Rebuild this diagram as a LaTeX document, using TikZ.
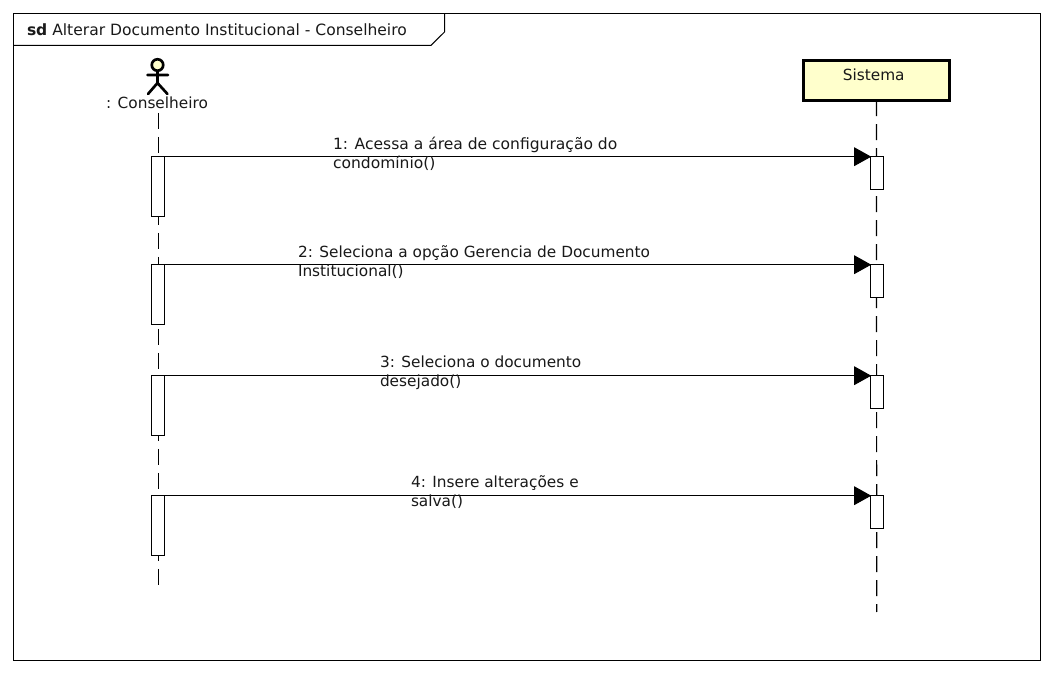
\documentclass[tikz,border=0pt]{standalone}
\usepackage{fontspec}
\setmainfont{DejaVu Sans}
\usetikzlibrary{arrows.meta}
\definecolor{umlfill}{HTML}{FFFFCC}
\tikzset{
  x=0.75pt,y=-0.75pt,
  lbl/.style={inner sep=0pt,outer sep=0pt,font=\fontsize{11.5pt}{14.25pt}\selectfont,text=black!90},
  lblwide/.style={lbl,font=\fontsize{11.65pt}{14.25pt}\selectfont},
  msglbl/.style={lbl,anchor=base west,align=left},
  activation/.style={draw=black,fill=white,line width=0.75pt,minimum width=9.75pt,inner sep=0pt,outer sep=0pt,anchor=north},
  lifeline/.style={draw=black,line width=0.9pt,dash pattern=on 12pt off 6pt},
  msg/.style={draw=black,line width=0.75pt,-{Triangle[length=12.75pt,width=14pt]},shorten >=-0.75pt},
  frameline/.style={draw=black,line width=0.75pt},
}
\begin{document}
\begin{tikzpicture}
\useasboundingbox (0,0) rectangle (1054,673);
\fill[white] (0,0) rectangle (1054,673);
\draw[frameline] (13.5,13.5) rectangle (1040.5,660);
\draw[frameline] (13.5,45.3) -- (431,45.3) -- (444.5,32) -- (444.5,13.5);
\node[lblwide,anchor=base west] (title) at (27,36) {\textbf{sd} Alterar Documento Institucional - Conselheiro};

% actor
\coordinate (ahead) at (157.5,65);
\draw[draw=black,fill=umlfill,line width=2pt] (ahead) circle (4.3pt);
\draw[black,line width=2pt,line cap=round] (157.5,71) -- (157.5,83) (147.5,75) -- (168,75) (148,94) -- (157.5,83) -- (167.5,94);
\node[lbl,anchor=base] (actor) at (157,109) {: Conselheiro};

% system
\node[draw=black,fill=umlfill,line width=2.2pt,minimum width=110pt,minimum height=29.5pt,inner sep=0pt,outer sep=0pt] (sys) at (876.5,80.5) {};
\node[lbl,anchor=base] (systxt) at (873.7,81) {Sistema};

% lifelines
\coordinate (l1top) at (158.3,113);
\coordinate (l1bot) at (158.3,585);
\coordinate (l2bot) at (876.7,612);
\draw[lifeline] (l1top) -- (l1bot);
\draw[lifeline] (sys.south) -- (l2bot);

% activations and messages
\foreach \n/\ya/\off in {1/156.7/0pt, 2/264.7/0pt, 3/375.7/0.6pt, 4/495.7/0.6pt}{
  \node[activation,minimum height=45pt] (a\n) at (158,\ya) {};
  \node[activation,minimum height=24.75pt] (b\n) at (876.7,\ya) {};
  \draw[msg,yshift=\off] (a\n.north east) -- (b\n.north west);
}
\node[lblwide,anchor=base west,align=left] (m1) at (333,168.5) {1: Acessa a área de configuração do\\condomínio()};
\node[msglbl] (m2) at (298,276.5) {2: Seleciona a opção Gerencia de Documento\\Institucional()};
\node[msglbl] (m3) at (380,386.8) {3: Seleciona o documento\\desejado()};
\node[msglbl] (m4) at (411,506.8) {4: Insere alterações e\\salva()};
\end{tikzpicture}
\end{document}
